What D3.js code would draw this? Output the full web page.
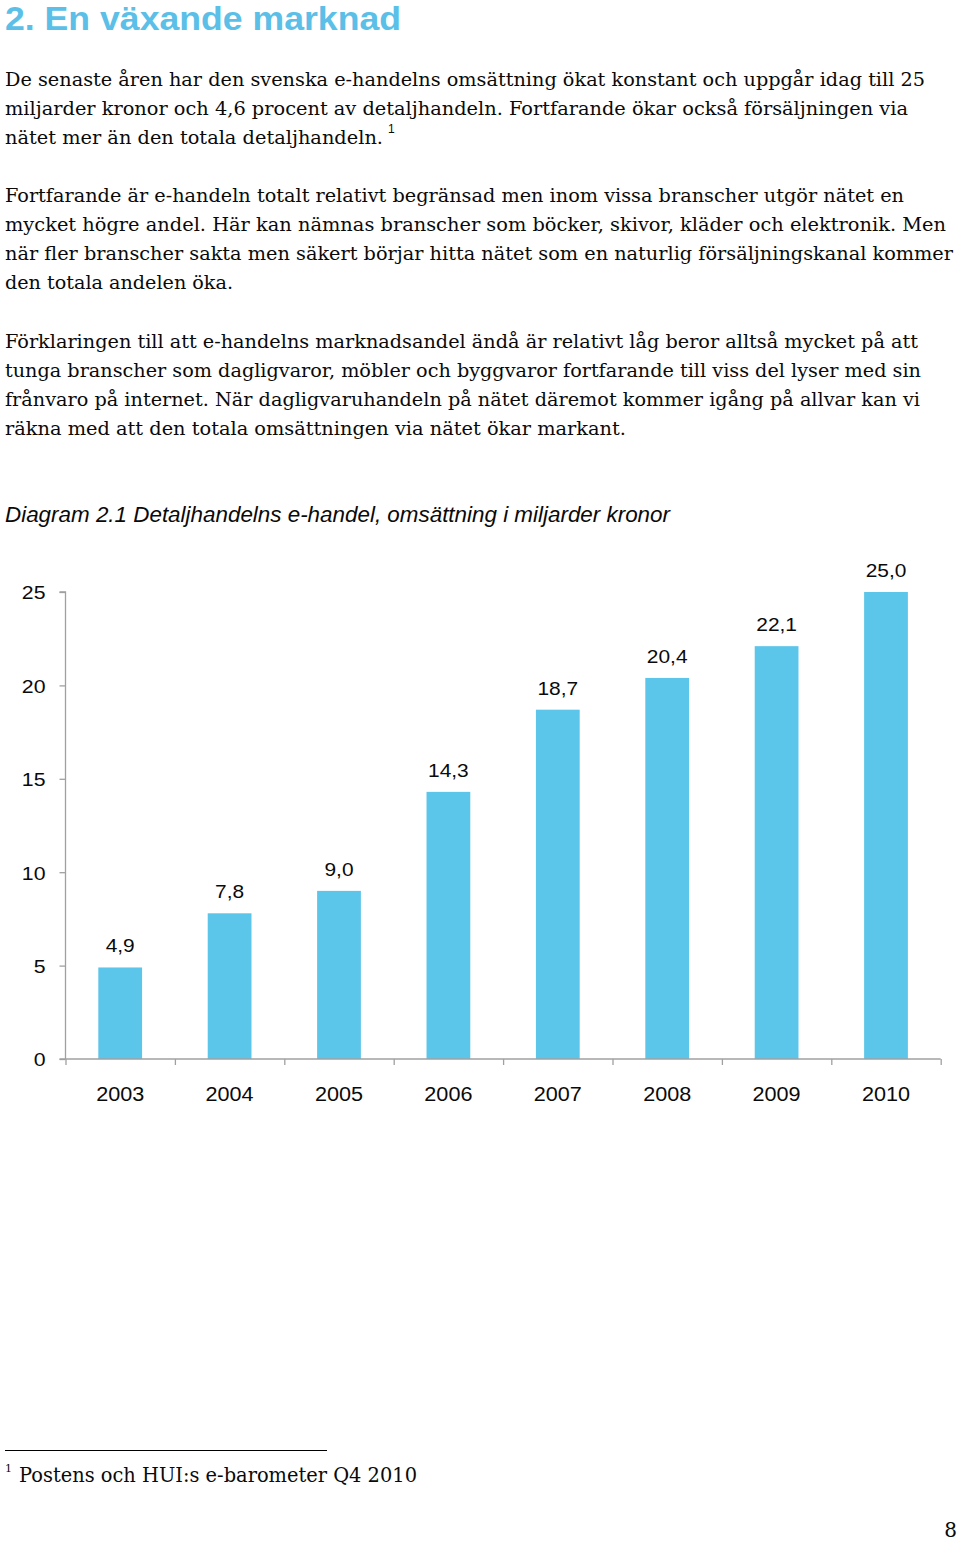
<!DOCTYPE html>
<html>
<head>
<meta charset="utf-8">
<script src="https://cdn.jsdelivr.net/npm/d3@7"></script>
<style>
  html, body { margin: 0; padding: 0; background: #ffffff; }
  svg { display: block; }
</style>
</head>
<body>
<svg id="page" width="960" height="1541"></svg>
<script>
// ---------------- DATA ----------------
const years = ["2003", "2004", "2005", "2006", "2007", "2008", "2009", "2010"];
const turnover = [4.9, 7.8, 9.0, 14.3, 18.7, 20.4, 22.1, 25.0];
const yTicks = [0, 5, 10, 15, 20, 25];

const titleText = "2. En växande marknad";
const paragraph1 = [
  "De senaste åren har den svenska e-handelns omsättning ökat konstant och uppgår idag till 25",
  "miljarder kronor och 4,6 procent av detaljhandeln. Fortfarande ökar också försäljningen via",
  "nätet mer än den totala detaljhandeln."
];
const paragraph2 = [
  "Fortfarande är e-handeln totalt relativt begränsad men inom vissa branscher utgör nätet en",
  "mycket högre andel. Här kan nämnas branscher som böcker, skivor, kläder och elektronik. Men",
  "när fler branscher sakta men säkert börjar hitta nätet som en naturlig försäljningskanal kommer",
  "den totala andelen öka."
];
const paragraph3 = [
  "Förklaringen till att e-handelns marknadsandel ändå är relativt låg beror alltså mycket på att",
  "tunga branscher som dagligvaror, möbler och byggvaror fortfarande till viss del lyser med sin",
  "frånvaro på internet. När dagligvaruhandeln på nätet däremot kommer igång på allvar kan vi",
  "räkna med att den totala omsättningen via nätet ökar markant."
];
const captionText = "Diagram 2.1 Detaljhandelns e-handel, omsättning i miljarder kronor";
const footnoteText = "Postens och HUI:s e-barometer Q4 2010";
const pageNumber = "8";

// ---------------- LAYOUT / STYLE ----------------
const svg = d3.select("#page");
const BLUE_TITLE = "#5bbfe7";
const BAR = "#5bc5ea";
const AXIS = "#a0a0a0";
const TEXT = "#0a0a0a";
const SERIF = "'DejaVu Serif', Georgia, serif";
const SANS = "'Liberation Sans', Arial, sans-serif";

function stretch(sel, k) {
  sel.each(function () {
    const w = this.getComputedTextLength();
    d3.select(this).attr("textLength", w * k).attr("lengthAdjust", "spacingAndGlyphs");
  });
}

// Title
svg.append("text")
  .attr("x", 5).attr("y", 29.5)
  .attr("font-family", SANS).attr("font-weight", "bold")
  .attr("font-size", 32.5).attr("fill", BLUE_TITLE)
  .attr("textLength", 396).attr("lengthAdjust", "spacingAndGlyphs")
  .text(titleText);

// Body paragraphs
const lineH = 29.1;
const bodyBlocks = [
  { lines: paragraph1, y0: 86, ends: [925, 908, 383] },
  { lines: paragraph2, y0: 202, ends: [904, 946, 953, 233] },
  { lines: paragraph3, y0: 347.5, ends: [918, 921, 920, 626] }
];
bodyBlocks.forEach(b => {
  svg.append("g").selectAll("text").data(b.lines).join("text")
    .attr("x", 5)
    .attr("y", (d, i) => b.y0 + i * lineH)
    .attr("font-family", SERIF).attr("font-size", 18.5).attr("fill", TEXT)
    .attr("textLength", (d, i) => b.ends[i] - 5)
    .attr("lengthAdjust", "spacingAndGlyphs")
    .text(d => d);
});
// superscript footnote marker in paragraph 1
svg.append("text")
  .attr("x", 388).attr("y", 133)
  .attr("font-family", SANS).attr("font-size", 12).attr("fill", TEXT)
  .text("1");

// Caption
svg.append("text")
  .attr("x", 5).attr("y", 522)
  .attr("font-family", SANS).attr("font-style", "italic")
  .attr("font-size", 21.5).attr("fill", TEXT)
  .attr("textLength", 665).attr("lengthAdjust", "spacingAndGlyphs")
  .text(captionText);

// ---------------- CHART ----------------
const x0 = 65.5, x1 = 940.7;
const yBase = 1059, yTop = 592;

const x = d3.scaleBand().domain(years).range([x0, x1]).paddingInner(0.6).paddingOuter(0.3);
const xEdges = d3.scaleLinear().domain([0, years.length]).range([x0, x1]);
const y = d3.scaleLinear().domain([0, 25]).range([yBase, yTop]);

const fmt = d3.formatLocale({ decimal: ",", thousands: " ", grouping: [3], currency: ["", " kr"] }).format(".1f");

const chart = svg.append("g");

// Bars
chart.append("g").selectAll("rect").data(turnover).join("rect")
  .attr("x", (d, i) => x(years[i]))
  .attr("width", x.bandwidth())
  .attr("y", d => y(d))
  .attr("height", d => yBase - y(d))
  .attr("fill", BAR);

// Value labels
const vl = chart.append("g").selectAll("text").data(turnover).join("text")
  .attr("x", (d, i) => x(years[i]) + x.bandwidth() / 2)
  .attr("y", d => y(d) - 15)
  .attr("text-anchor", "middle")
  .attr("font-family", SANS).attr("font-size", 18.5).attr("fill", TEXT)
  .text(d => fmt(d));
stretch(vl, 1.13);

// Y axis
const yAxis = chart.append("g")
  .attr("transform", `translate(${x0},0)`)
  .call(d3.axisLeft(y).tickValues(yTicks).tickSize(6).tickPadding(14).tickFormat(d3.format("d")));
yAxis.select(".domain").attr("stroke", AXIS).attr("stroke-width", 1.3)
  .attr("d", `M-6,${yTop}H0V${yBase}`);
yAxis.selectAll(".tick line").attr("stroke", AXIS).attr("stroke-width", 1.3);
yAxis.selectAll(".tick text")
  .attr("font-family", SANS).attr("font-size", 19).attr("fill", TEXT).attr("dy", "0.36em");
stretch(yAxis.selectAll(".tick text"), 1.12);

// X axis: boundary ticks
const xAxis = chart.append("g")
  .attr("transform", `translate(0,${yBase})`)
  .call(d3.axisBottom(xEdges).tickValues(d3.range(0, years.length + 1)).tickSize(6).tickFormat(""));
xAxis.select(".domain").attr("stroke", AXIS).attr("stroke-width", 1.3)
  .attr("d", `M${x0 - 6},0H${x1}`);
xAxis.selectAll(".tick line").attr("stroke", AXIS).attr("stroke-width", 1.3);

// X category labels
const xl = chart.append("g").selectAll("text").data(years).join("text")
  .attr("x", d => x(d) + x.bandwidth() / 2)
  .attr("y", 1101)
  .attr("text-anchor", "middle")
  .attr("font-family", SANS).attr("font-size", 20).attr("fill", TEXT)
  .text(d => d);
stretch(xl, 1.08);

// ---------------- FOOTNOTE ----------------
svg.append("line")
  .attr("x1", 5).attr("x2", 327).attr("y1", 1450.5).attr("y2", 1450.5)
  .attr("stroke", "#000").attr("stroke-width", 1.2);
svg.append("text")
  .attr("x", 5).attr("y", 1472)
  .attr("font-family", SERIF).attr("font-size", 11).attr("fill", TEXT)
  .text("1");
svg.append("text")
  .attr("x", 19).attr("y", 1482)
  .attr("font-family", SERIF).attr("font-size", 19.5).attr("fill", TEXT)
  .attr("textLength", 398).attr("lengthAdjust", "spacingAndGlyphs")
  .text(footnoteText);

// Page number
svg.append("text")
  .attr("x", 957).attr("y", 1537)
  .attr("text-anchor", "end")
  .attr("font-family", SERIF).attr("font-size", 20).attr("fill", TEXT)
  .text(pageNumber);
</script>
</body>
</html>
